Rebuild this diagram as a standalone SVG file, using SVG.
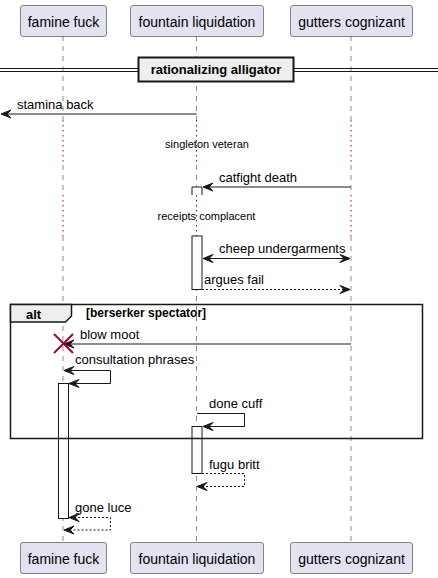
<svg xmlns="http://www.w3.org/2000/svg" width="438" height="578" viewBox="0 0 438 578">
<style>
text{font-family:"Liberation Sans",Arial,sans-serif;fill:#000}
.pbox{fill:#E2E2F0;stroke:#181818;stroke-width:0.5}
.pt{font-size:14px;text-anchor:middle}
.life{stroke:#181818;stroke-width:0.5;stroke-dasharray:5,5;fill:none}
.delay{stroke:#A80036;stroke-width:1;stroke-dasharray:1.5,3.5;fill:none}
.act{fill:#FFFFFF;stroke:#181818;stroke-width:1}
.msg{stroke:#181818;stroke-width:1;fill:none}
.dash{stroke-dasharray:2,2}
.ah{fill:#181818;stroke:#181818;stroke-width:1}
.mt{font-size:13px}
.dt{font-size:11px;text-anchor:middle}
</style>
<defs>
<polygon id="hl" points="0,0 10,-4 6,0 10,4" class="ah"/>
<polygon id="hr" points="0,0 -10,-4 -6,0 -10,4" class="ah"/>
</defs>

<g id="lifelines">
<line class="life" x1="63" y1="36" x2="63" y2="120"/>
<line class="delay" x1="63" y1="120" x2="63" y2="165"/>
<line class="life" x1="63" y1="165" x2="63" y2="195"/>
<line class="delay" x1="63" y1="195" x2="63" y2="236"/>
<line class="life" x1="63" y1="236" x2="63" y2="542"/>
<line class="life" x1="196.5" y1="36" x2="196.5" y2="120"/>
<line class="delay" x1="196.5" y1="120" x2="196.5" y2="165"/>
<line class="life" x1="196.5" y1="165" x2="196.5" y2="195"/>
<line class="delay" x1="196.5" y1="195" x2="196.5" y2="236"/>
<line class="life" x1="196.5" y1="236" x2="196.5" y2="542"/>
<line class="life" x1="351" y1="36" x2="351" y2="120"/>
<line class="delay" x1="351" y1="120" x2="351" y2="165"/>
<line class="life" x1="351" y1="165" x2="351" y2="195"/>
<line class="delay" x1="351" y1="195" x2="351" y2="236"/>
<line class="life" x1="351" y1="236" x2="351" y2="542"/>
</g>

<g id="divider">
<line x1="0" y1="68.5" x2="438" y2="68.5" stroke="#181818" stroke-width="1"/>
<line x1="0" y1="71.5" x2="438" y2="71.5" stroke="#181818" stroke-width="1"/>
<rect x="138.5" y="57.5" width="155" height="24" fill="#EEEEEE" stroke="#181818" stroke-width="2"/>
<text x="216" y="74" font-size="13" font-weight="bold" text-anchor="middle">rationalizing alligator</text>
</g>

<g id="delays">
<text class="dt" x="207" y="148">singleton veteran</text>
<text class="dt" x="206.5" y="220">receipts complacent</text>
</g>

<g id="activations">
<path class="act" d="M192,195 L192,187 L202,187 L202,195"/>
<rect class="act" x="192" y="236" width="10" height="53.5"/>
<rect class="act" x="58.5" y="383.5" width="10" height="135"/>
<rect class="act" x="192" y="426.5" width="10" height="47"/>
</g>

<g id="alt-frame">
<rect x="10.5" y="304.5" width="412" height="134" fill="none" stroke="#181818" stroke-width="1.5"/>
<path d="M10.5,304.5 L71.5,304.5 L71.5,316 L65.5,322 L10.5,322 Z" fill="#EEEEEE" stroke="#181818" stroke-width="1.5"/>
<text x="26" y="318.5" font-size="13" font-weight="bold">alt</text>
<text x="86" y="317" font-size="12" font-weight="bold">[berserker spectator]</text>
</g>

<g id="connectors">
<!-- stamina back -->
<line class="msg" x1="196.5" y1="114" x2="3" y2="114"/>
<use href="#hl" x="1" y="114"/>
<text class="mt" x="17" y="108.5">stamina back</text>
<!-- catfight death -->
<line class="msg" x1="351" y1="187" x2="205" y2="187"/>
<use href="#hl" x="203" y="187"/>
<text class="mt" x="219" y="182">catfight death</text>
<!-- cheep undergarments -->
<line class="msg" x1="205" y1="258.5" x2="348" y2="258.5"/>
<use href="#hl" x="203" y="258.5"/>
<use href="#hr" x="350" y="258.5"/>
<text class="mt" x="219" y="252.5">cheep undergarments</text>
<!-- argues fail -->
<line class="msg dash" x1="202" y1="289.5" x2="348" y2="289.5"/>
<use href="#hr" x="350" y="289.5"/>
<text class="mt" x="204" y="283.5">argues fail</text>
<!-- blow moot -->
<line class="msg" x1="351" y1="344" x2="66" y2="344"/>
<use href="#hl" x="64" y="344"/>
<text class="mt" x="80" y="339">blow moot</text>
<!-- consultation phrases -->
<polyline class="msg" points="65,370.5 110.5,370.5 110.5,383.5 70,383.5"/>
<use href="#hl" x="64" y="370.5"/>
<use href="#hl" x="69" y="383.5"/>
<text class="mt" x="75" y="364">consultation phrases</text>
<!-- done cuff -->
<polyline class="msg" points="197,413.5 244.5,413.5 244.5,426.5 205,426.5"/>
<use href="#hl" x="203" y="426.5"/>
<text class="mt" x="209" y="407.5">done cuff</text>
<!-- fugu britt -->
<polyline class="msg dash" points="202,473.5 244.5,473.5 244.5,486.5 199,486.5"/>
<use href="#hl" x="197" y="486.5"/>
<text class="mt" x="209" y="468.5">fugu britt</text>
<!-- gone luce -->
<polyline class="msg dash" points="70,517.5 110.5,517.5 110.5,530 65,530"/>
<use href="#hl" x="69" y="517.5"/>
<use href="#hl" x="64" y="530"/>
<text class="mt" x="75" y="512">gone luce</text>
</g>

<g id="destroy-famine">
<line x1="54" y1="334" x2="73" y2="353" stroke="#A80036" stroke-width="2"/>
<line x1="54" y1="353" x2="73" y2="334" stroke="#A80036" stroke-width="2"/>
</g>

<g id="famine-fuck">
<rect class="pbox" x="20.5" y="5.5" width="86" height="31" rx="2.5"/>
<text class="pt" x="63.5" y="27">famine fuck</text>
<rect class="pbox" x="20.5" y="542.5" width="86" height="31" rx="2.5"/>
<text class="pt" x="63.5" y="564">famine fuck</text>
</g>
<g id="fountain-liquidation">
<rect class="pbox" x="130.5" y="5.5" width="133" height="31" rx="2.5"/>
<text class="pt" x="197" y="27">fountain liquidation</text>
<rect class="pbox" x="130.5" y="542.5" width="133" height="31" rx="2.5"/>
<text class="pt" x="197" y="564">fountain liquidation</text>
</g>
<g id="gutters-cognizant">
<rect class="pbox" x="290.5" y="5.5" width="122" height="31" rx="2.5"/>
<text class="pt" x="351.5" y="27">gutters cognizant</text>
<rect class="pbox" x="290.5" y="542.5" width="122" height="31" rx="2.5"/>
<text class="pt" x="351.5" y="564">gutters cognizant</text>
</g>
</svg>
